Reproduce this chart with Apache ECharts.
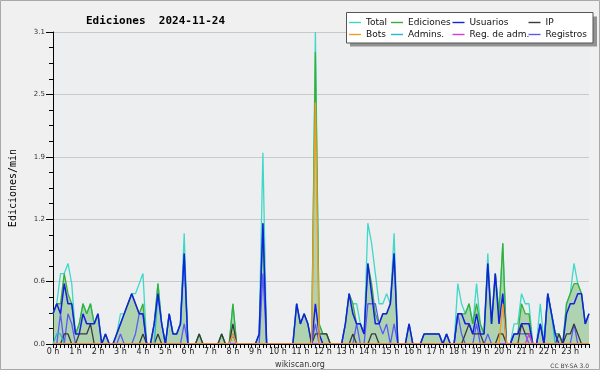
<!DOCTYPE html>
<html>
<head>
<meta charset="utf-8">
<script src="https://cdn.jsdelivr.net/npm/echarts@6/dist/echarts.min.js"></script>
<style>
html,body{margin:0;padding:0;background:#f0f0f0;}
#chart{width:600px;height:370px;}
</style>
</head>
<body>
<div id="chart"></div>
<script>
// Tick labels of the time axis (one per hour)
var hourLabels = ['0 h','1 h','2 h','3 h','4 h','5 h','6 h','7 h','8 h','9 h','10 h','11 h',
  '12 h','13 h','14 h','15 h','16 h','17 h','18 h','19 h','20 h','21 h','22 h','23 h'];

// Categories: 10-minute slots of the day
var categories = [];
for (var h = 0; h < 24; h++) {
  for (var m = 0; m < 60; m += 10) {
    categories.push((h < 10 ? '0' : '') + h + ':' + (m < 10 ? '0' : '') + m);
  }
}

// Series values (edits per minute), one row per hour (6 slots of 10 min)
var total = [
  0.3,0.4,0.7,0.7,0.8,0.6,  0.1,0.2,0.4,0.3,0.4,0.2,  0.3,0,0.1,0,0,0.1,  0.3,0.3,0.4,0.5,0.5,0.6,
  0.7,0,0,0.2,0.6,0.2,  0,0.3,0.1,0.1,0.2,1.1,  0,0,0,0.1,0,0,  0,0,0,0.1,0,0,
  0.4,0,0,0,0,0,  0,0.1,1.9,0,0,0,  0,0,0,0,0,0.4,  0.2,0.3,0.2,0,3.1,0.2,
  0.1,0.1,0,0,0,0,  0.2,0.5,0.4,0.4,0.2,0.1,  1.2,1.0,0.7,0.4,0.4,0.5,  0.4,1.1,0,0,0,0.2,
  0,0,0,0.1,0.1,0.1,  0.1,0.1,0,0.1,0,0,  0.6,0.4,0.3,0.4,0.2,0.6,  0.2,0.1,0.9,0.2,0.7,0.3,
  1.0,0,0,0.2,0.2,0.5,  0.4,0.4,0,0,0.4,0,  0.5,0.3,0.1,0.1,0,0.4,  0.5,0.8,0.6,0.5,0.2,0.3
];
var ediciones = [
  0.3,0.4,0.4,0.7,0.5,0.4,  0.1,0.2,0.4,0.3,0.4,0.2,  0.3,0,0.1,0,0,0.1,  0.2,0.3,0.4,0.5,0.4,0.3,
  0.4,0,0,0.2,0.6,0.2,  0,0.3,0.1,0.1,0.2,0.9,  0,0,0,0.1,0,0,  0,0,0,0.1,0,0,
  0.4,0,0,0,0,0,  0,0.1,1.2,0,0,0,  0,0,0,0,0,0.4,  0.2,0.3,0.2,0,2.9,0.2,
  0.1,0.1,0,0,0,0,  0.2,0.5,0.4,0.2,0.2,0.1,  0.8,0.6,0.3,0.2,0.3,0.3,  0.4,0.9,0,0,0,0.2,
  0,0,0,0.1,0.1,0.1,  0.1,0.1,0,0.1,0,0,  0.3,0.3,0.3,0.4,0.2,0.4,  0.2,0.1,0.8,0.2,0.7,0.3,
  1.0,0,0,0.1,0.1,0.4,  0.3,0.3,0,0,0.2,0,  0.5,0.3,0.1,0.1,0,0.4,  0.5,0.6,0.6,0.5,0.2,0.3
];
var usuarios = [
  0.3,0.4,0.3,0.6,0.4,0.4,  0.1,0.1,0.3,0.2,0.2,0.2,  0.3,0,0.1,0,0,0.1,  0.2,0.3,0.4,0.5,0.4,0.3,
  0.3,0,0,0.2,0.5,0.2,  0,0.3,0.1,0.1,0.2,0.9,  0,0,0,0,0,0,  0,0,0,0,0,0,
  0.1,0,0,0,0,0,  0,0.1,1.2,0,0,0,  0,0,0,0,0,0.4,  0.2,0.3,0.2,0,0.4,0.1,
  0,0,0,0,0,0,  0.2,0.5,0.3,0.2,0.2,0.1,  0.8,0.5,0.2,0.2,0.3,0.3,  0.4,0.9,0,0,0,0.2,
  0,0,0,0.1,0.1,0.1,  0.1,0.1,0,0.1,0,0,  0.3,0.3,0.2,0.2,0.1,0.3,  0.1,0.1,0.8,0.2,0.7,0.2,
  0.5,0,0,0.1,0.1,0.2,  0.2,0.2,0,0,0.2,0,  0.5,0.3,0.1,0,0,0.3,  0.4,0.4,0.5,0.5,0.2,0.3
];
var ip = [
  0,0,0,0.1,0.1,0,  0,0.1,0.1,0.1,0.2,0,  0,0,0,0,0,0,  0,0,0,0,0,0,
  0.1,0,0,0,0.1,0,  0,0,0,0,0,0,  0,0,0,0.1,0,0,  0,0,0,0.1,0,0,
  0.2,0,0,0,0,0,  0,0,0,0,0,0,  0,0,0,0,0,0,  0,0,0,0,0.1,0.1,
  0.1,0.1,0,0,0,0,  0,0,0.1,0,0,0,  0,0.1,0.1,0,0,0,  0,0,0,0,0,0,
  0,0,0,0,0,0,  0,0,0,0,0,0,  0,0,0.1,0.2,0.1,0.1,  0.1,0,0,0,0,0.1,
  0.1,0,0,0,0,0.2,  0.1,0.1,0,0,0,0,  0,0,0,0.1,0,0.1,  0.1,0.2,0.1,0,0,0
];
var bots = [
  0,0,0,0,0,0,  0,0,0,0,0,0,  0,0,0,0,0,0,  0,0,0,0,0,0,
  0,0,0,0,0,0,  0,0,0,0,0,0,  0,0,0,0,0,0,  0,0,0,0,0,0,
  0.1,0,0,0,0,0,  0,0,0,0,0,0,  0,0,0,0,0,0,  0,0,0,0,2.4,0,
  0,0,0,0,0,0,  0,0,0,0,0,0,  0,0,0,0,0,0,  0,0,0,0,0,0,
  0,0,0,0,0,0,  0,0,0,0,0,0,  0,0,0,0,0,0,  0,0,0,0,0,0,
  0.4,0,0,0,0,0,  0,0,0,0,0,0,  0,0,0,0,0,0,  0,0,0,0,0,0
];
var admins = [
  0,0.1,0.1,0,0,0,  0,0,0,0,0,0,  0,0,0,0,0,0,  0,0,0,0,0,0,
  0,0,0,0,0.5,0.2,  0,0.3,0.1,0.1,0.2,0.9,  0,0,0,0,0,0,  0,0,0,0,0,0,
  0,0,0,0,0,0,  0,0,0,0,0,0,  0,0,0,0,0,0,  0,0,0,0,0,0,
  0,0,0,0,0,0,  0,0,0,0,0,0,  0,0,0,0,0,0,  0,0,0,0,0,0,
  0,0,0,0,0,0,  0,0,0,0,0,0,  0,0,0,0,0,0,  0,0,0,0,0,0,
  0,0,0,0,0,0,  0,0,0,0,0,0,  0.5,0.3,0,0,0,0,  0,0,0,0,0,0
];
var regAdm = [
  0,0,0,0,0,0,  0,0,0,0,0,0,  0,0,0,0,0,0,  0,0,0,0,0,0,
  0,0,0,0,0,0,  0,0,0,0,0,0,  0,0,0,0,0,0,  0,0,0,0,0,0,
  0,0,0,0,0,0,  0,0,0,0,0,0,  0,0,0,0,0,0,  0,0,0,0,0,0,
  0,0,0,0,0,0,  0,0,0,0,0,0,  0,0,0,0,0,0,  0,0,0,0,0,0,
  0,0,0,0,0,0,  0,0,0,0,0,0,  0,0,0,0,0,0,  0,0,0,0,0,0,
  0,0,0,0,0,0,  0,0.1,0,0,0,0,  0,0,0,0,0,0,  0,0,0,0,0,0
];
var registros = [
  0,0,0.3,0,0.3,0.2,  0,0,0,0,0,0,  0,0,0,0,0,0,  0.1,0,0,0,0.1,0.3,
  0.3,0,0,0,0,0,  0,0,0,0,0,0.2,  0,0,0,0,0,0,  0,0,0,0,0,0,
  0,0,0,0,0,0,  0,0,0.7,0,0,0,  0,0,0,0,0,0,  0,0,0,0,0.2,0,
  0,0,0,0,0,0,  0,0,0,0.2,0,0,  0.4,0.4,0.4,0.2,0.1,0.2,  0,0.2,0,0,0,0,
  0,0,0,0,0,0,  0,0,0,0,0,0,  0.3,0.1,0,0,0,0.2,  0,0,0.1,0,0,0,
  0,0,0,0.1,0.1,0.1,  0.1,0,0,0,0.2,0,  0,0,0,0,0,0,  0,0.2,0,0,0,0
];

var names = ['Total','Ediciones','Usuarios','IP','Bots','Admins.','Reg. de adm.','Registros'];
var colors = {
  'Total':'#3fd8c8', 'Ediciones':'#36b036', 'Usuarios':'#1420e0', 'IP':'#3a3a3a',
  'Bots':'#f39c25', 'Admins.':'#27b5d8', 'Reg. de adm.':'#d63ad6', 'Registros':'#5a5af5'
};

function lineSeries(name, data, width, extra) {
  var s = {
    name: name, type: 'line', data: data, symbol: 'none', smooth: false,
    color: colors[name], itemStyle: {color: colors[name]},
    lineStyle: {color: colors[name], width: width},
    emphasis: {disabled: true}, z: 2
  };
  if (extra) { for (var k in extra) s[k] = extra[k]; }
  return s;
}

var legendCols = [349, 391, 452.5, 528.5];
var legendRows = [17, 29];
var legends = names.map(function (n, i) {
  return {
    data: [{name: n, icon: 'rect'}],
    left: legendCols[i % 4], top: legendRows[Math.floor(i / 4)],
    itemWidth: 12, itemHeight: 1.4, padding: 0, z: 6,
    selectedMode: false,
    textStyle: {fontFamily: 'DejaVu Sans', fontSize: 9, color: '#111', lineHeight: 11}
  };
});

var chart = echarts.init(document.getElementById('chart'), null, {renderer: 'canvas'});
chart.setOption({
  animation: false,
  backgroundColor: '#f0f0f0',
  title: {
    text: 'Ediciones  2024-11-24', left: 81, top: 11,
    textStyle: {fontFamily: 'DejaVu Sans Mono', fontWeight: 'bold', fontSize: 11, color: '#000'}
  },
  legend: legends,
  grid: {left: 46, top: 32, width: 543, height: 312, show: true, backgroundColor: '#edeef0', borderWidth: 0},
  xAxis: {
    type: 'category', data: categories, boundaryGap: false, z: 10,
    axisLine: {lineStyle: {color: '#000', width: 1}},
    axisTick: {show: true, interval: 0, length: 4, lineStyle: {color: '#000'}},
    axisLabel: {
      interval: function (idx) { return idx % 6 === 0; },
      formatter: function (v, idx) { return hourLabels[idx / 6]; },
      fontFamily: 'DejaVu Sans', fontSize: 8, color: '#222', margin: 4
    },
    splitLine: {show: false}
  },
  yAxis: {
    type: 'value', min: 0, max: 3.1, interval: 0.62,
    name: 'Ediciones/min', nameLocation: 'middle', nameGap: 35,
    nameTextStyle: {fontFamily: 'DejaVu Sans Mono', fontSize: 10, color: '#000'},
    axisLine: {show: true, lineStyle: {color: '#000'}},
    axisTick: {show: true, length: 7, lineStyle: {color: '#000'}},
    minorTick: {show: true, splitNumber: 4, length: 4, lineStyle: {color: '#000'}},
    axisLabel: {formatter: function (v) { return v.toFixed(1); }, fontFamily: 'DejaVu Sans', fontSize: 7, color: '#333', margin: 8},
    splitLine: {lineStyle: {color: '#c9c9c9', width: 1}}
  },
  series: [
    lineSeries('Total', total, 1.3),
    lineSeries('Ediciones', ediciones, 1.3, {areaStyle: {color: 'rgba(75,169,76,0.55)'}}),
    lineSeries('Registros', registros, 1.3),
    lineSeries('IP', ip, 1.3),
    lineSeries('Admins.', admins, 1.3),
    lineSeries('Usuarios', usuarios, 1.5),
    lineSeries('Reg. de adm.', regAdm, 1.3),
    lineSeries('Bots', bots, 1.4)
  ],
  graphic: [
    {type: 'rect', z: 3, shape: {x: 350, y: 16.5, width: 247, height: 30}, style: {fill: '#929292'}},
    {type: 'rect', z: 4, shape: {x: 346.5, y: 12.5, width: 246.5, height: 30.5}, style: {fill: '#ffffff', stroke: '#555555', lineWidth: 1}},
    {type: 'text', z: 4, style: {text: 'wikiscan.org', x: 300, y: 364.5, textAlign: 'center', textVerticalAlign: 'middle', font: '8px "DejaVu Sans"', fill: '#333'}},
    {type: 'text', z: 4, style: {text: 'CC BY-SA 3.0', x: 589, y: 366.5, textAlign: 'right', textVerticalAlign: 'middle', font: '6px "DejaVu Sans"', fill: '#444'}},
    {type: 'rect', z: 4, shape: {x: 0.5, y: 0.5, width: 599, height: 369}, style: {fill: 'none', stroke: '#a8a8a8', lineWidth: 1}}
  ]
});
</script>
</body>
</html>
